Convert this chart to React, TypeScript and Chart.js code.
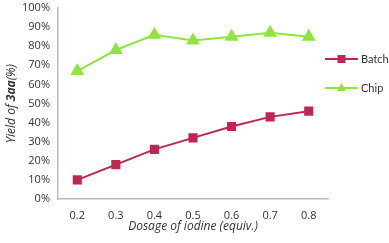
import React, { useEffect, useRef } from "react";
import { Chart, registerables } from "chart.js";

Chart.register(...registerables);

const categories = ["0.2", "0.3", "0.4", "0.5", "0.6", "0.7", "0.8"];
const batchValues = [10, 18, 26, 32, 38, 43, 46];
const chipValues = [67, 78, 86, 83, 85, 87, 85];
const seriesNames = ["Batch", "Chip"];
const xTitle = "Dosage of iodine (equiv.)";

const RED = "#C0264E";
const GREEN = "#8EE53F";
const AXIS = "#A9C4C6";
const FONT = "'Open Sans', sans-serif";

export default function App() {
  const ref = useRef<HTMLCanvasElement | null>(null);

  useEffect(() => {
    document.body.style.margin = "0";
    const canvas = ref.current;
    if (!canvas) return;

    const overlay = {
      id: "overlay",
      afterDraw(chart: any) {
        const ctx = chart.ctx;
        const ca = chart.chartArea;
        ctx.save();
        const parts = [
          { t: "Yield of ", f: `italic 12px ${FONT}` },
          { t: "3aa", f: `italic bold 12px ${FONT}` },
          { t: "(%)", f: `italic 12px ${FONT}` },
        ];
        let total = 0;
        parts.forEach((p) => {
          ctx.font = p.f;
          total += ctx.measureText(p.t).width;
        });
        ctx.translate(12, (ca.top + ca.bottom) / 2);
        ctx.rotate(-Math.PI / 2);
        ctx.fillStyle = "#333";
        ctx.textBaseline = "middle";
        ctx.textAlign = "left";
        let x = -total / 2;
        parts.forEach((p) => {
          ctx.font = p.f;
          ctx.fillText(p.t, x, 0);
          x += ctx.measureText(p.t).width;
        });
        ctx.restore();

        ctx.save();
        ctx.font = `italic 12px ${FONT}`;
        ctx.fillStyle = "#333";
        ctx.textAlign = "center";
        ctx.textBaseline = "middle";
        ctx.fillText(xTitle, (ca.left + ca.right) / 2, 227);
        ctx.restore();

        const items = [
          { y: 59, color: RED, style: "rect" },
          { y: 88, color: GREEN, style: "triangle" },
        ];
        items.forEach((it, i) => {
          ctx.save();
          ctx.strokeStyle = it.color;
          ctx.lineWidth = 2;
          ctx.beginPath();
          ctx.moveTo(325, it.y);
          ctx.lineTo(358, it.y);
          ctx.stroke();
          ctx.fillStyle = it.color;
          if (it.style === "rect") {
            ctx.fillRect(341.5 - 4, it.y - 4, 8, 8);
          } else {
            ctx.beginPath();
            ctx.moveTo(341.5, it.y - 5);
            ctx.lineTo(346, it.y + 3);
            ctx.lineTo(337, it.y + 3);
            ctx.closePath();
            ctx.fill();
          }
          ctx.font = `11px Lato, sans-serif`;
          ctx.fillStyle = "#333";
          ctx.textAlign = "left";
          ctx.textBaseline = "middle";
          ctx.fillText(seriesNames[i], 361, it.y);
          ctx.restore();
        });
      },
    };

    const chart = new Chart(canvas, {
      type: "line",
      data: {
        labels: categories,
        datasets: [
          {
            label: seriesNames[0],
            data: batchValues,
            borderColor: RED,
            backgroundColor: RED,
            borderWidth: 2,
            pointStyle: "rect",
            pointRadius: 5,
            pointHoverRadius: 5,
          },
          {
            label: seriesNames[1],
            data: chipValues,
            borderColor: GREEN,
            backgroundColor: GREEN,
            borderWidth: 2,
            pointStyle: "triangle",
            pointRadius: 6,
            pointHoverRadius: 6,
          },
        ],
      },
      options: {
        animation: false,
        responsive: false,
        layout: { padding: { top: 7, right: 61, left: 0, bottom: 0 } },
        plugins: { legend: { display: false }, tooltip: { enabled: false } },
        scales: {
          x: {
            offset: true,
            grid: { display: false, drawTicks: false },
            border: { display: true, color: AXIS, width: 1.5 },
            ticks: { font: { family: FONT, size: 11 }, color: "#333", padding: 10 },
            afterFit: (s: any) => {
              s.height = 44;
              s.paddingLeft = 0;
              s.paddingRight = 0;
            },
          },
          y: {
            min: 0,
            max: 100,
            grid: { display: false, drawTicks: false },
            border: { display: true, color: AXIS, width: 1.5 },
            ticks: {
              stepSize: 10,
              font: { family: FONT, size: 11 },
              color: "#333",
              padding: 8,
              callback: (v: any) => v + "%",
            },
            afterFit: (s: any) => {
              s.width = 58;
              s.paddingTop = 0;
              s.paddingBottom = 0;
            },
          },
        },
      },
      plugins: [overlay],
    });
    return () => chart.destroy();
  }, []);

  return <canvas ref={ref} width={389} height={243} style={{ display: "block" }} />;
}
